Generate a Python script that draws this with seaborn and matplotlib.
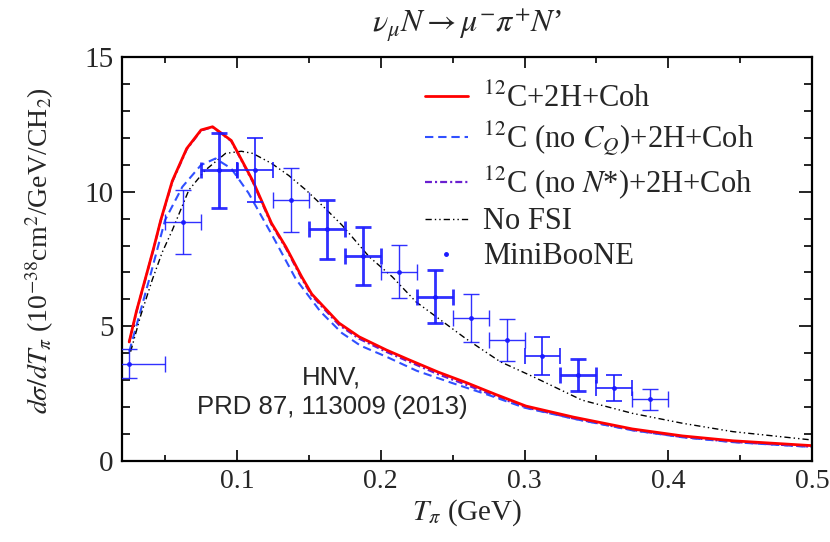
import matplotlib
matplotlib.use("Agg")
import matplotlib.pyplot as plt
from matplotlib.lines import Line2D
from matplotlib.ticker import MultipleLocator, FixedLocator
import seaborn as sns

# --- model curves: d(sigma)/dT_pi in 1e-38 cm^2/GeV/CH2 ---
t_full = [0.025, 0.030, 0.036, 0.042, 0.047, 0.055, 0.065, 0.075, 0.083, 0.096,
          0.111, 0.124, 0.134, 0.145, 0.152, 0.171, 0.185, 0.204, 0.220, 0.240,
          0.260, 0.280, 0.301, 0.334, 0.375, 0.410, 0.445, 0.500]
xs_full = [4.42, 5.55, 6.72, 7.90, 8.95, 10.40, 11.60, 12.29, 12.41, 11.90,
           10.40, 8.83, 7.95, 6.84, 6.20, 5.12, 4.61, 4.12, 3.75, 3.30,
           2.90, 2.47, 2.04, 1.63, 1.19, 0.93, 0.75, 0.57]

t_nocq = [0.025, 0.032, 0.040, 0.050, 0.062, 0.075, 0.085, 0.096, 0.108, 0.125,
          0.141, 0.158, 0.173, 0.186, 0.204, 0.225, 0.250, 0.275, 0.300, 0.334,
          0.375, 0.410, 0.445, 0.500]
xs_nocq = [4.06, 5.40, 6.95, 8.95, 10.18, 10.99, 11.23, 10.86, 9.95, 8.33,
           6.75, 5.55, 4.75, 4.28, 3.87, 3.35, 2.89, 2.45, 1.98, 1.57,
           1.14, 0.88, 0.70, 0.52]

t_nonstar = t_full
xs_nonstar = [4.40, 5.53, 6.70, 7.88, 8.93, 10.37, 11.57, 12.27, 12.40, 11.88,
              10.36, 8.78, 7.90, 6.78, 6.14, 5.05, 4.54, 4.05, 3.68, 3.22,
              2.82, 2.40, 1.99, 1.58, 1.15, 0.89, 0.71, 0.53]

t_nofsi = [0.026, 0.033, 0.041, 0.048, 0.055, 0.0665, 0.078, 0.092, 0.103, 0.111,
           0.124, 0.136, 0.148, 0.160, 0.173, 0.192, 0.208, 0.2245, 0.240, 0.259,
           0.283, 0.306, 0.340, 0.375, 0.410, 0.445, 0.500]
xs_nofsi = [4.06, 5.40, 6.72, 7.75, 8.57, 10.06, 10.80, 11.42, 11.50, 11.42,
            11.05, 10.60, 10.06, 9.45, 8.76, 7.58, 6.84, 5.91, 5.30, 4.55,
            3.69, 3.13, 2.26, 1.77, 1.40, 1.09, 0.78]

# --- MiniBooNE CC pi+ data ---
mb_t = [0.025, 0.0625, 0.0875, 0.1125, 0.1375, 0.1625, 0.1875, 0.2125,
        0.2375, 0.2625, 0.2875, 0.3125, 0.3375, 0.3625, 0.3875]
mb_xs = [3.62, 8.88, 10.80, 10.80, 9.69, 8.60, 7.61, 7.03,
         6.10, 5.32, 4.49, 3.90, 3.19, 2.70, 2.30]
mb_err = [0.52, 1.18, 1.39, 1.20, 1.19, 1.10, 1.08, 0.98,
          0.99, 0.89, 0.78, 0.71, 0.59, 0.48, 0.39]
mb_halfbin = [0.025, 0.0125, 0.0125, 0.0125, 0.0125, 0.0125, 0.0125, 0.0125,
              0.0125, 0.0125, 0.0125, 0.0125, 0.0125, 0.0125, 0.0125]

labels = [r"$^{12}$C+2H+Coh",
          r"$^{12}$C (no $C_Q$)+2H+Coh",
          r"$^{12}$C (no $N$*)+2H+Coh",
          "No FSI",
          "MiniBooNE"]

sns.set_theme(style="ticks")
plt.rcParams["font.family"] = ["Liberation Serif", "DejaVu Serif"]
plt.rcParams["mathtext.fontset"] = "stix"
plt.rcParams["lines.scale_dashes"] = False

fig = plt.figure(figsize=(8.3, 5.42), dpi=100)
ax = fig.add_axes([122 / 830, 1 - 461 / 542, 690 / 830, 404 / 542])

red = "#ff0000"
blue = "#3050ff"
purple = "#6a1fd0"
dblue = "#1a1aff"

sns.lineplot(x=t_nonstar, y=xs_nonstar, ax=ax, color=purple, lw=1.6,
             sort=False, estimator=None)
ax.lines[-1].set_dashes((5, 2.2, 1.5, 2.2))
sns.lineplot(x=t_nocq, y=xs_nocq, ax=ax, color=blue, lw=1.5,
             sort=False, estimator=None)
ax.lines[-1].set_dashes((6, 3.5))
sns.lineplot(x=t_nofsi, y=xs_nofsi, ax=ax, color="black", lw=1.0,
             sort=False, estimator=None)
ax.lines[-1].set_dashes((4.5, 2.2, 1.0, 2.2, 1.0, 2.2))
sns.lineplot(x=t_full, y=xs_full, ax=ax, color=red, lw=2.0,
             sort=False, estimator=None)

# data points with bin widths and errors; alternate stroke weights
bar_lw = [1.0, 1.0, 2.0, 1.3, 1.0, 2.0, 2.0, 1.0,
          2.0, 1.0, 1.0, 1.3, 2.0, 1.3, 1.0]
for i in range(len(mb_t)):
    ax.errorbar(mb_t[i], mb_xs[i], yerr=mb_err[i], xerr=mb_halfbin[i],
                fmt="o", ms=2.5, color=dblue, ecolor=dblue,
                elinewidth=bar_lw[i], capsize=6, capthick=bar_lw[i],
                alpha=0.9, zorder=3)

ax.set_xlim(0.02, 0.5)
ax.set_ylim(0, 15)
ax.xaxis.set_major_locator(FixedLocator([0.1, 0.2, 0.3, 0.4, 0.5]))
ax.xaxis.set_minor_locator(MultipleLocator(0.05))
ax.yaxis.set_major_locator(MultipleLocator(5))
ax.yaxis.set_minor_locator(MultipleLocator(1))
ax.set_xticklabels(["0.1", "0.2", "0.3", "0.4", "0.5"])
ax.set_yticks([0, 5, 10, 15])
ax.set_yticklabels(["0", "5", "10", "15"])

for s in ax.spines.values():
    s.set_linewidth(1.6)
    s.set_color("black")
ax.tick_params(axis="both", which="both", direction="in",
               top=True, right=True, color="black", width=1.2)
ax.tick_params(axis="x", which="major", length=8, pad=6, labelsize=20)
ax.tick_params(axis="x", which="minor", length=4.5)
ax.tick_params(axis="y", which="major", length=9.5, pad=6, labelsize=21)
ax.tick_params(axis="y", which="minor", length=5.8)

ax.set_xlabel(r"$T_\pi$ (GeV)", fontsize=21)
ax.xaxis.set_label_coords(0.5, -0.09)
ax.set_ylabel(r"$d\sigma/dT_\pi$ (10$^{-38}$cm$^2$/GeV/CH$_2$)", fontsize=20)
ax.yaxis.set_label_coords(-0.095, 0.52)

fig.text(467 / 830, 1 - 25 / 542,
         r"$\nu_\mu N \rightarrow \mu^{-}\pi^{+}N$’",
         ha="center", va="center", fontsize=23)

ax.text(0.166, 2.56, "HNV,\nPRD 87, 113009 (2013)",
        family=["Liberation Sans", "DejaVu Sans"], fontsize=18.5,
        ha="center", va="center", multialignment="center", linespacing=1.3)

handles = [Line2D([], [], color=red, lw=2.0),
           Line2D([], [], color=blue, lw=1.5, dashes=(6, 3.5)),
           Line2D([], [], color=purple, lw=1.6, dashes=(5, 2.2, 1.5, 2.2)),
           Line2D([], [], color="black", lw=1.0,
                  dashes=(4.5, 2.2, 1.0, 2.2, 1.0, 2.2)),
           Line2D([], [], color=dblue, ls="none", marker="o", ms=2.5)]
ax.legend(handles, labels, loc="upper left",
          bbox_to_anchor=(425 / 830, 1 - 84 / 542),
          bbox_transform=fig.transFigure, frameon=False, fontsize=22,
          borderpad=0, borderaxespad=0, handlelength=1.4,
          handletextpad=0.5, labelspacing=0.2)

fig.savefig("out.png", dpi=100)
